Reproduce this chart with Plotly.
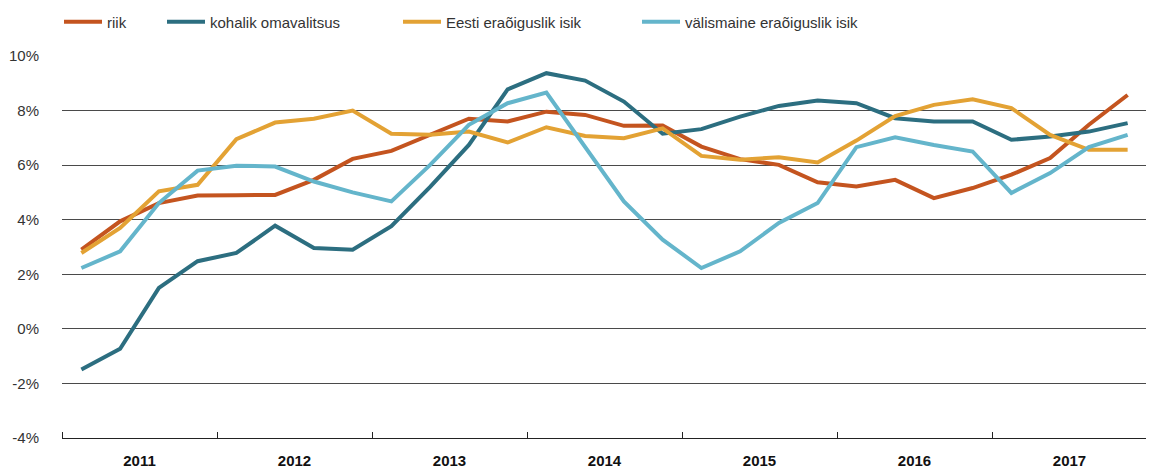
import plotly.graph_objects as go

years = [2011, 2012, 2013, 2014, 2015, 2016, 2017]
quarters = [f"{y} Q{q}" for y in years for q in (1, 2, 3, 4)]

riik = [2.90, 3.94, 4.61, 4.89, 4.90, 4.91, 5.46, 6.23,
        6.52, 7.11, 7.70, 7.60, 7.96, 7.84, 7.44, 7.45,
        6.68, 6.22, 6.01, 5.37, 5.22, 5.46, 4.79, 5.16,
        5.65, 6.26, 7.48, 8.57]
kohalik = [-1.49, -0.73, 1.50, 2.48, 2.78, 3.78, 2.96, 2.90,
           3.76, 5.20, 6.74, 8.78, 9.37, 9.10, 8.33, 7.15,
           7.32, 7.78, 8.17, 8.37, 8.27, 7.72, 7.60, 7.60,
           6.93, 7.05, 7.23, 7.54]
eesti = [2.78, 3.70, 5.04, 5.28, 6.95, 7.56, 7.70, 8.00,
         7.15, 7.11, 7.23, 6.83, 7.39, 7.07, 6.99, 7.35,
         6.34, 6.20, 6.29, 6.10, 6.90, 7.80, 8.21, 8.41,
         8.09, 7.11, 6.56, 6.56]
valismaine = [2.23, 2.84, 4.61, 5.80, 5.98, 5.95, 5.40, 5.00,
              4.67, 6.01, 7.48, 8.27, 8.66, 6.68, 4.67, 3.27,
              2.23, 2.84, 3.88, 4.61, 6.66, 7.02, 6.74, 6.50,
              4.98, 5.71, 6.66, 7.11]

series_names = ["riik", "kohalik omavalitsus", "Eesti eraõiguslik isik", "välismaine eraõiguslik isik"]
y_tickvals = [-4, -2, 0, 2, 4, 6, 8, 10]
y_ticktext = ["-4%", "-2%", "0%", "2%", "4%", "6%", "8%", "10%"]

colors = ["#C4541F", "#2C6E80", "#E3A234", "#64B5CB"]
legend_ids = ["legend", "legend2", "legend3", "legend4"]
legend_left_px = [51, 154, 390, 629]

x = list(range(len(quarters)))
year_centers = [i * 4 + 1.5 for i in range(len(years))]
year_bounds = [i * 4 - 0.5 for i in range(len(years) + 1)]

fig = go.Figure()
for name, vals, color, leg in zip(series_names, [riik, kohalik, eesti, valismaine], colors, legend_ids):
    fig.add_trace(go.Scatter(
        x=x, y=vals, name=name, mode="lines",
        line=dict(color=color, width=4),
        legend=leg, showlegend=True, customdata=quarters,
        hovertemplate="%{customdata}: %{y:.1f}%<extra>" + name + "</extra>",
    ))

W, H = 1154, 475
legend_font = dict(family="Liberation Sans, Arial, sans-serif", size=15, color="#333333")
layout_legends = {}
for leg, left in zip(legend_ids, legend_left_px):
    layout_legends[leg] = dict(
        x=left / W, xref="container", xanchor="left",
        y=1 - 14 / H, yref="container", yanchor="middle",
        orientation="h", font=legend_font, bgcolor="rgba(0,0,0,0)",
        borderwidth=0, itemwidth=38, visible=True,
    )

fig.update_layout(
    width=W, height=H,
    margin=dict(l=54, r=15, t=48, b=45, autoexpand=False),
    paper_bgcolor="white", plot_bgcolor="white",
    showlegend=True,
    font=dict(family="Liberation Sans, Arial, sans-serif", size=15, color="#333333"),
    **layout_legends,
)

fig.update_yaxes(
    range=[-4, 10], tickvals=y_tickvals, ticktext=y_ticktext,
    showgrid=True, gridcolor="#4a4a4a", gridwidth=1,
    zeroline=False, showline=False, ticks="",
    ticklabelstandoff=22, automargin=False,
    tickfont=dict(size=15, color="#333333"),
)
fig.update_xaxes(
    range=[-0.5, len(quarters) - 0.5],
    tickvals=year_centers, ticktext=[f"<b>{y}</b>" for y in years],
    ticks="", showgrid=False, zeroline=False,
    showline=True, linecolor="#222222", linewidth=1,
    tickfont=dict(size=15, color="#111111"),
    ticklabelstandoff=9, automargin=False,
    minor=dict(tickvals=year_bounds, ticks="inside", ticklen=6, tickcolor="#222222", tickwidth=1, showgrid=False),
)

fig.write_html("out.html")
